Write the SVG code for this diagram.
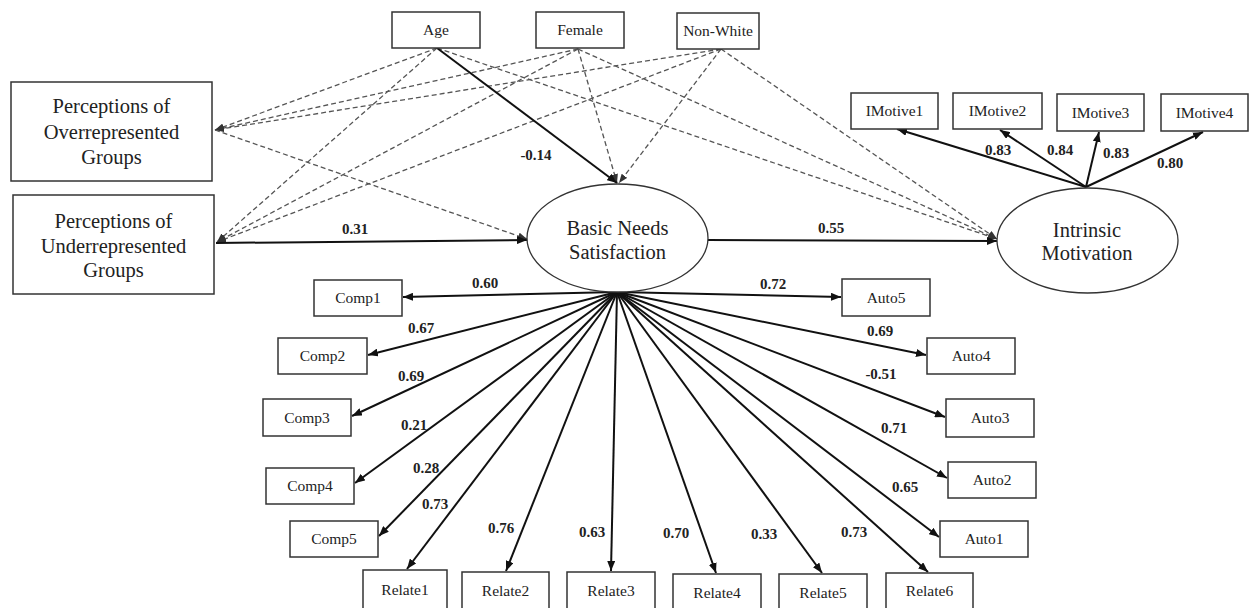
<svg xmlns="http://www.w3.org/2000/svg" width="1253" height="608" viewBox="0 0 1253 608">
<style>
.box{fill:#fff;stroke:#333;stroke-width:1.5}
.ell{fill:#fff;stroke:#333;stroke-width:1.3}
.t{font-family:"Liberation Serif","Times New Roman",serif;font-size:15.5px;fill:#222;text-anchor:middle}
.big{font-family:"Liberation Serif","Times New Roman",serif;font-size:20.5px;fill:#222;text-anchor:middle}
.lab{font-family:"Liberation Serif","Times New Roman",serif;font-size:15px;font-weight:bold;fill:#222;text-anchor:middle}
.s{stroke:#111;stroke-width:2;fill:none;marker-end:url(#ah)}
.d{stroke:#555;stroke-width:1.3;stroke-dasharray:5 3;fill:none;marker-end:url(#ad)}
</style>
<defs>
<marker id="ah" markerUnits="userSpaceOnUse" markerWidth="10" markerHeight="8" refX="10" refY="4" orient="auto"><path d="M0,0 L10,4 L0,8 z" fill="#111"/></marker>
<marker id="ad" markerUnits="userSpaceOnUse" markerWidth="9" markerHeight="7" refX="9" refY="3.5" orient="auto"><path d="M0,0 L9,3.5 L0,7 z" fill="#333"/></marker>
</defs>
<rect width="1253" height="608" fill="#fff"/>

<g id="connectors">
<!-- dashed from demographics -->
<line class="d" x1="437" y1="48" x2="215" y2="130"/>
<line class="d" x1="437" y1="48" x2="217" y2="242"/>
<line class="d" x1="437" y1="48" x2="997" y2="239"/>
<line class="d" x1="578" y1="49" x2="215" y2="130"/>
<line class="d" x1="578" y1="49" x2="217" y2="242"/>
<line class="d" x1="578" y1="49" x2="617" y2="183"/>
<line class="d" x1="578" y1="49" x2="997" y2="239"/>
<line class="d" x1="721" y1="49" x2="215" y2="130"/>
<line class="d" x1="721" y1="49" x2="217" y2="242"/>
<line class="d" x1="721" y1="49" x2="619" y2="183"/>
<line class="d" x1="721" y1="49" x2="997" y2="239"/>
<line class="d" x1="215" y1="130" x2="527" y2="239"/>
<!-- solid structural -->
<line class="s" x1="437" y1="48" x2="617" y2="183"/>
<line class="s" x1="216" y1="243" x2="527" y2="240"/>
<line class="s" x1="708" y1="240" x2="997" y2="241"/>
<!-- intrinsic motivation indicators -->
<line class="s" x1="1086" y1="187" x2="897" y2="129"/>
<line class="s" x1="1086" y1="187" x2="1000" y2="130"/>
<line class="s" x1="1086" y1="187" x2="1099" y2="132"/>
<line class="s" x1="1086" y1="187" x2="1203" y2="132"/>
<!-- basic needs indicators -->
<line class="s" x1="617" y1="292" x2="403" y2="297"/>
<line class="s" x1="617" y1="292" x2="368" y2="355"/>
<line class="s" x1="617" y1="292" x2="352" y2="416"/>
<line class="s" x1="617" y1="292" x2="355" y2="483"/>
<line class="s" x1="617" y1="292" x2="379" y2="536"/>
<line class="s" x1="617" y1="292" x2="407" y2="569"/>
<line class="s" x1="617" y1="292" x2="506" y2="571"/>
<line class="s" x1="617" y1="292" x2="611" y2="571"/>
<line class="s" x1="617" y1="292" x2="716" y2="573"/>
<line class="s" x1="617" y1="292" x2="822" y2="573"/>
<line class="s" x1="617" y1="292" x2="928" y2="572"/>
<line class="s" x1="617" y1="292" x2="841" y2="297"/>
<line class="s" x1="617" y1="292" x2="926" y2="355"/>
<line class="s" x1="617" y1="292" x2="945" y2="417"/>
<line class="s" x1="617" y1="292" x2="947" y2="478"/>
<line class="s" x1="617" y1="292" x2="939" y2="537"/>
</g>

<g id="labels">
<text class="lab" x="536" y="160">-0.14</text>
<text class="lab" x="355" y="234">0.31</text>
<text class="lab" x="831" y="233">0.55</text>
<text class="lab" x="998" y="155">0.83</text>
<text class="lab" x="1060" y="155">0.84</text>
<text class="lab" x="1116" y="158">0.83</text>
<text class="lab" x="1170" y="168">0.80</text>
<text class="lab" x="485" y="288">0.60</text>
<text class="lab" x="421" y="333">0.67</text>
<text class="lab" x="411" y="381">0.69</text>
<text class="lab" x="414" y="430">0.21</text>
<text class="lab" x="426" y="473">0.28</text>
<text class="lab" x="435" y="509">0.73</text>
<text class="lab" x="501" y="533">0.76</text>
<text class="lab" x="592" y="537">0.63</text>
<text class="lab" x="676" y="538">0.70</text>
<text class="lab" x="764" y="539">0.33</text>
<text class="lab" x="854" y="537">0.73</text>
<text class="lab" x="773" y="289">0.72</text>
<text class="lab" x="880" y="336">0.69</text>
<text class="lab" x="881" y="379">-0.51</text>
<text class="lab" x="894" y="433">0.71</text>
<text class="lab" x="905" y="492">0.65</text>
</g>

<g id="age"><rect class="box" x="392" y="12" width="88" height="36"/><text class="t" x="436" y="35">Age</text></g>
<g id="female"><rect class="box" x="536" y="12" width="88" height="36"/><text class="t" x="580" y="35">Female</text></g>
<g id="nonwhite"><rect class="box" x="677" y="13" width="82" height="36"/><text class="t" x="718" y="36">Non-White</text></g>

<g id="over"><rect class="box" x="11" y="82" width="201" height="99"/>
<text class="big" x="111.5" y="113">Perceptions of</text>
<text class="big" x="111.5" y="139">Overrepresented</text>
<text class="big" x="111.5" y="164">Groups</text></g>
<g id="under"><rect class="box" x="13" y="195" width="201" height="99"/>
<text class="big" x="113.5" y="228">Perceptions of</text>
<text class="big" x="113.5" y="253">Underrepresented</text>
<text class="big" x="113.5" y="277">Groups</text></g>

<g id="bns"><ellipse class="ell" cx="617.5" cy="238" rx="90.5" ry="54"/>
<text class="big" x="617.5" y="235">Basic Needs</text>
<text class="big" x="617.5" y="259">Satisfaction</text></g>
<g id="im"><ellipse class="ell" cx="1087.5" cy="240.5" rx="90.5" ry="52.5"/>
<text class="big" x="1087" y="237">Intrinsic</text>
<text class="big" x="1087" y="260">Motivation</text></g>

<g id="imotive1"><rect class="box" x="851" y="93" width="87" height="36"/><text class="t" x="894.5" y="116">IMotive1</text></g>
<g id="imotive2"><rect class="box" x="953" y="93" width="89" height="36"/><text class="t" x="997.5" y="116">IMotive2</text></g>
<g id="imotive3"><rect class="box" x="1057" y="94" width="87" height="37"/><text class="t" x="1100.5" y="117.5">IMotive3</text></g>
<g id="imotive4"><rect class="box" x="1161" y="94" width="87" height="37"/><text class="t" x="1204.5" y="117.5">IMotive4</text></g>

<g id="comp1"><rect class="box" x="314" y="280" width="88" height="36"/><text class="t" x="358" y="303">Comp1</text></g>
<g id="comp2"><rect class="box" x="278" y="338" width="89" height="36"/><text class="t" x="322.5" y="361">Comp2</text></g>
<g id="comp3"><rect class="box" x="263" y="399" width="88" height="37"/><text class="t" x="307" y="422.5">Comp3</text></g>
<g id="comp4"><rect class="box" x="266" y="468" width="88" height="36"/><text class="t" x="310" y="491">Comp4</text></g>
<g id="comp5"><rect class="box" x="290" y="521" width="88" height="36"/><text class="t" x="334" y="544">Comp5</text></g>

<g id="relate1"><rect class="box" x="363" y="570" width="84" height="42"/><text class="t" x="405" y="595">Relate1</text></g>
<g id="relate2"><rect class="box" x="462" y="572" width="87" height="42"/><text class="t" x="505.5" y="596">Relate2</text></g>
<g id="relate3"><rect class="box" x="567" y="572" width="88" height="42"/><text class="t" x="611" y="596">Relate3</text></g>
<g id="relate4"><rect class="box" x="673" y="574" width="88" height="42"/><text class="t" x="717" y="598">Relate4</text></g>
<g id="relate5"><rect class="box" x="779" y="574" width="88" height="42"/><text class="t" x="823" y="598">Relate5</text></g>
<g id="relate6"><rect class="box" x="886" y="573" width="87" height="42"/><text class="t" x="929.5" y="596">Relate6</text></g>

<g id="auto5"><rect class="box" x="842" y="279" width="88" height="37"/><text class="t" x="886" y="302.5">Auto5</text></g>
<g id="auto4"><rect class="box" x="927" y="338" width="88" height="36"/><text class="t" x="971" y="361">Auto4</text></g>
<g id="auto3"><rect class="box" x="946" y="399" width="88" height="38"/><text class="t" x="990" y="423">Auto3</text></g>
<g id="auto2"><rect class="box" x="948" y="462" width="88" height="36"/><text class="t" x="992" y="485">Auto2</text></g>
<g id="auto1"><rect class="box" x="940" y="521" width="88" height="36"/><text class="t" x="984" y="544">Auto1</text></g>
</svg>
